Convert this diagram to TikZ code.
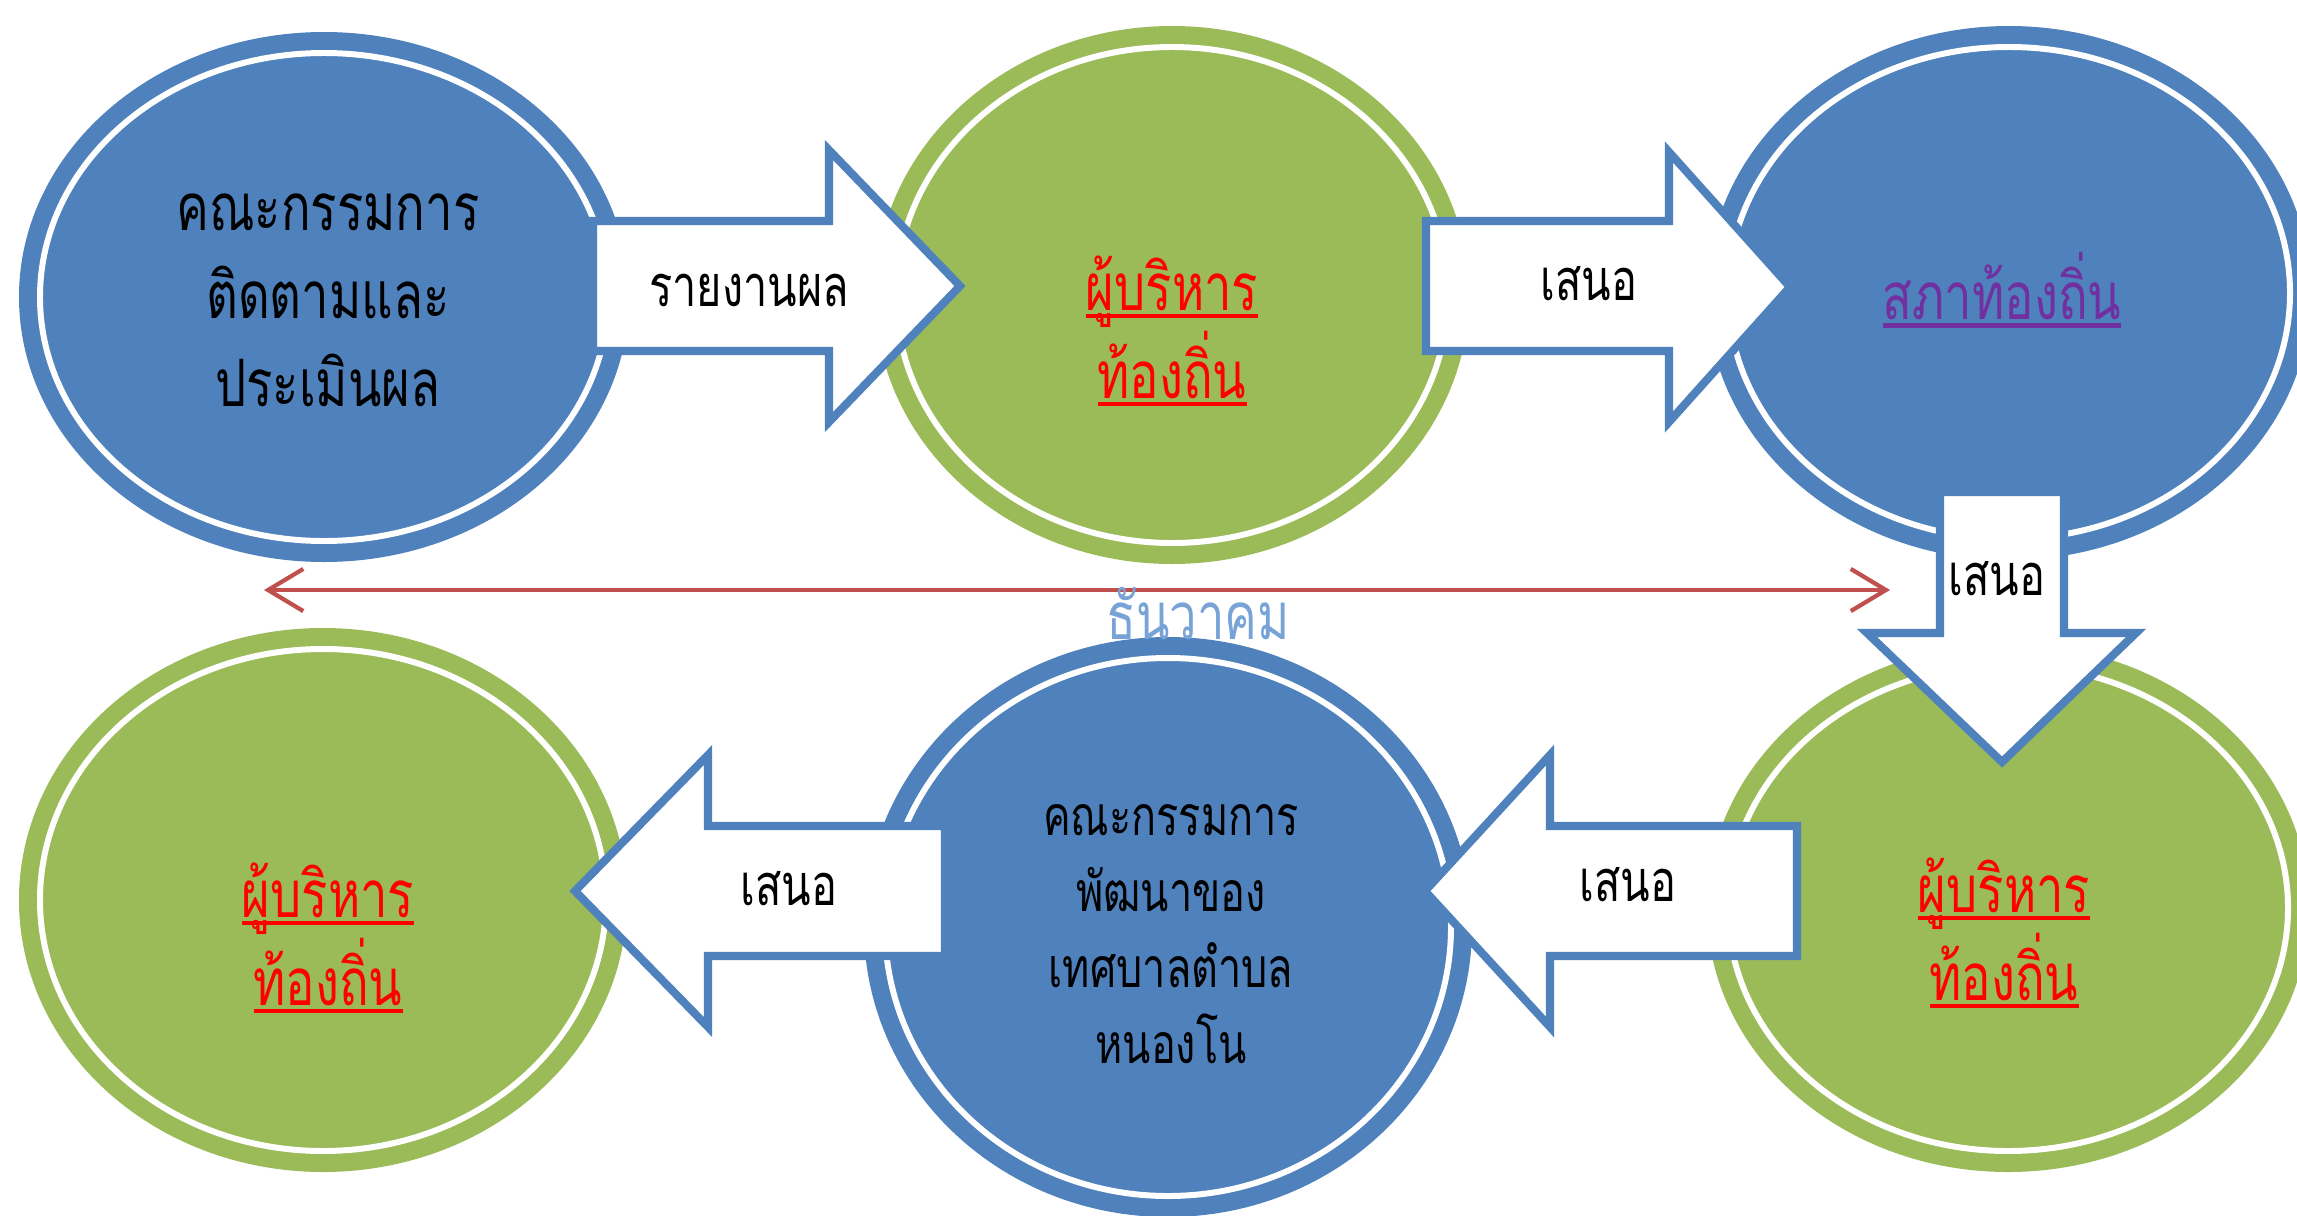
\documentclass[tikz,border=0pt]{standalone}
\usepackage{fontspec}
\newfontfamily\thaifont[Script=Thai,FakeStretch=0.75]{Loma}
\usetikzlibrary{arrows.meta}
\definecolor{oblue}{RGB}{79,129,189}
\definecolor{ogreen}{RGB}{155,187,89}
\definecolor{ored}{RGB}{192,80,77}
\definecolor{monthblue}{RGB}{120,163,215}
\definecolor{tpurple}{RGB}{112,48,160}
\newcommand{\ulthai}[1]{\setbox0\hbox{#1}\rlap{\rule[-2.2pt]{\wd0}{1.3pt}}\box0}

\begin{document}
\begin{tikzpicture}[x=.01cm,y=-.01cm,
		ring/.style={draw=white,line width=1.7pt},
		blockarrow/.style={draw=oblue,fill=white,line width=2.3pt,line join=miter},
		bigtext/.style={align=center,font=\thaifont\fontsize{18.6}{25}\selectfont},
		smalltext/.style={align=center,font=\thaifont\fontsize{15.7}{21.6}\selectfont},
		arrowtext/.style={font=\thaifont\fontsize{16.4}{18}\selectfont}]
		\useasboundingbox (0,0) rectangle (2297,1215);
		\clip (0,0) rectangle (2297,1215);
		% ellipses: centre, radii, colour
		\foreach \x/\y/\rx/\ry/\c in {324/297/305/265/oblue, 1172/295/297/269/ogreen,
			2009/293/302/267/oblue, 323/900/304/272/ogreen,
			1168/927/304/290/oblue, 2008/908/301/264/ogreen} {
			\pgfmathsetmacro\ra{\rx-21}
			\pgfmathsetmacro\rb{\ry-21}
			\fill [\c] (\x,\y) ellipse ({\rx} and {\ry});
			\draw [ring] (\x,\y) ellipse ({\ra} and {\rb});
		}
		% block arrows
		\draw [blockarrow] (593,221) -- (829,221) -- (829,150) -- (960,286) -- (829,422) -- (829,351) -- (593,351) -- cycle;
		\draw [blockarrow] (1426,221) -- (1669,221) -- (1669,152) -- (1790,287) -- (1669,422) -- (1669,351) -- (1426,351) -- cycle;
		\draw [blockarrow] (1940,492) -- (2064,492) -- (2064,633) -- (2136,633) -- (2002,762) -- (1867,633) -- (1940,633) -- cycle;
		\draw [blockarrow] (1797,826) -- (1550,826) -- (1550,755) -- (1425,891) -- (1550,1027) -- (1550,956) -- (1797,956) -- cycle;
		\draw [blockarrow] (945,826) -- (708,826) -- (708,755) -- (575,891) -- (708,1027) -- (708,956) -- (945,956) -- cycle;
		\node [arrowtext] (report) at (749,290) {รายงานผล};
		\node [arrowtext] (prop1) at (1589,284) {เสนอ};
		\node [arrowtext] (prop2) at (1997,579) {เสนอ};
		\node [arrowtext] (prop3) at (1628,885) {เสนอ};
		\node [arrowtext] (prop4) at (789,889) {เสนอ};
		% texts in the ellipses
		\node [bigtext] (monitor) at (328,300) {คณะกรรมการ\\ติดตามและ\\ประเมินผล};
		\node [bigtext, red] (exec1) at (1172,331) {\ulthai{ผู้บริหาร}\\\ulthai{ท้องถิ่น}};
		\node [bigtext, tpurple] (council) at (2002,290) {\ulthai{สภาท้องถิ่น}};
		\node [bigtext, red] (exec2) at (2004,933) {\ulthai{ผู้บริหาร}\\\ulthai{ท้องถิ่น}};
		\node [smalltext] (devboard) at (1171,934) {คณะกรรมการ\\พัฒนาของ\\เทศบาลตำบล\\หนองโน};
		\node [bigtext, red] (exec3) at (328,938) {\ulthai{ผู้บริหาร}\\\ulthai{ท้องถิ่น}};
		% time line
		\coordinate (tstart) at (264,590);
		\coordinate (tend) at (1890,590);
		\draw [ored, line width=1.2pt, {Straight Barb[length=10pt,width=12pt]}-{Straight Barb[length=10pt,width=12pt]}] (tstart) -- (tend);
		\node [bigtext, monthblue] (month) at (1198,614) {ธันวาคม};
	\end{tikzpicture}
\end{document}
